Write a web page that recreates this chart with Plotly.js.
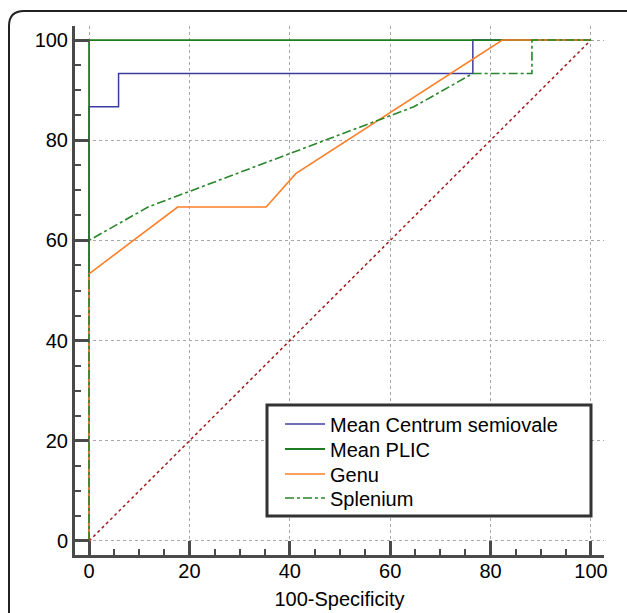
<!DOCTYPE html>
<html>
<head>
<meta charset="utf-8">
<script src="https://cdn.plot.ly/plotly-3.0.1.min.js"></script>
<style>html,body{margin:0;padding:0;background:#fff;}#chart{width:627px;height:613px;}</style>
</head>
<body>
<div id="chart"></div>
<script>
// ROC curve data (100-Specificity vs Sensitivity, %)
const centrumX = [0, 0, 5.88, 5.88, 76.47, 76.47, 100];
const centrumY = [0, 86.67, 86.67, 93.33, 93.33, 100, 100];
const plicX = [0, 0, 100];
const plicY = [0, 100, 100];
const genuX = [0, 0, 17.65, 35.29, 41.18, 82.35, 100];
const genuY = [0, 53.33, 66.67, 66.67, 73.33, 100, 100];
const spleniumX = [0, 0, 11.76, 64.71, 76.47, 88.24, 88.24, 100];
const spleniumY = [0, 60, 66.67, 86.67, 93.33, 93.33, 100, 100];
const diagX = [0, 100];
const diagY = [0, 100];
const seriesNames = ['Mean Centrum semiovale', 'Mean PLIC', 'Genu', 'Splenium'];
const tickVals = [0, 20, 40, 60, 80, 100];
const xTitle = '100-Specificity';

const FONT = 'Liberation Sans, Arial, sans-serif';
const AXC = '#4a4a4a';

const traces = [
  {x: diagX, y: diagY, mode: 'lines', showlegend: false, hoverinfo: 'skip',
   line: {color: '#a01c1c', width: 1.5, dash: 'dot'}},
  {x: centrumX, y: centrumY, mode: 'lines', name: seriesNames[0], legend: 'legend',
   line: {color: '#3c3ca0', width: 1.5}},
  {x: plicX, y: plicY, mode: 'lines', name: seriesNames[1], legend: 'legend2',
   line: {color: '#1e7d1e', width: 1.8}},
  {x: genuX, y: genuY, mode: 'lines', name: seriesNames[2], legend: 'legend3',
   line: {color: '#ff7f27', width: 1.6}},
  {x: spleniumX, y: spleniumY, mode: 'lines', name: seriesNames[3], legend: 'legend4',
   line: {color: '#2a862a', width: 1.6, dash: 'dashdot'}}
];

const L = 75, R = 23, T = 26, B = 58, W = 627, H = 613;
const pw = W - L - R, ph = H - T - B;
const px = v => (v - L) / pw;
const py = v => (H - B - v) / ph;
const fx = 9, fy = 11, rad = 15;
const framePath = 'M ' + px(fx) + ',' + py(H + 20) +
  ' L ' + px(fx) + ',' + py(fy + rad) +
  ' Q ' + px(fx) + ',' + py(fy) + ' ' + px(fx + rad) + ',' + py(fy) +
  ' L ' + px(W + 20) + ',' + py(fy);

function axis(extra) {
  return Object.assign({
    tickmode: 'array',
    tickvals: tickVals,
    ticks: 'inside', ticklen: 14, tickwidth: 3, tickcolor: AXC,
    showline: true, linewidth: 3, linecolor: AXC, mirror: false,
    showgrid: true, gridcolor: '#a8a8a8', gridwidth: 1, griddash: 'dot',
    zeroline: false,
    tickfont: {family: FONT, size: 20, color: '#000'},
    minor: {tickmode: 'linear', tick0: 0, dtick: 5, ticks: 'inside', ticklen: 6, tickwidth: 2, tickcolor: AXC, showgrid: false},
    fixedrange: true
  }, extra);
}

function legendAt(rowCenter) {
  return {
    x: px(280), y: py(rowCenter), xanchor: 'left', yanchor: 'middle',
    bgcolor: 'rgba(0,0,0,0)', borderwidth: 0,
    font: {family: FONT, size: 20, color: '#000'},
    itemwidth: 40
  };
}

const layout = {
  width: W, height: H,
  margin: {l: L, r: R, t: T, b: B},
  paper_bgcolor: '#fff', plot_bgcolor: '#fff',
  font: {family: FONT, color: '#000'},
  xaxis: axis({
    range: [-2.8, 102.6],
    ticklabelstandoff: -4,
    title: {text: xTitle, font: {family: FONT, size: 20, color: '#000'}, standoff: 11}
  }),
  yaxis: axis({
    range: [-2.8, 102.8]
  }),
  legend: legendAt(424),
  legend2: legendAt(449),
  legend3: legendAt(474),
  legend4: legendAt(498),
  shapes: [
    {type: 'rect', xref: 'paper', yref: 'paper',
     x0: px(267), x1: px(591), y0: py(516), y1: py(405),
     fillcolor: '#fff', line: {color: '#333', width: 3}, layer: 'above'},
    {type: 'path', xref: 'paper', yref: 'paper', path: framePath,
     line: {color: '#222', width: 2}, layer: 'above'}
  ],
  showlegend: true
};

Plotly.newPlot('chart', traces, layout, {displayModeBar: false, staticPlot: true});
</script>
</body>
</html>
